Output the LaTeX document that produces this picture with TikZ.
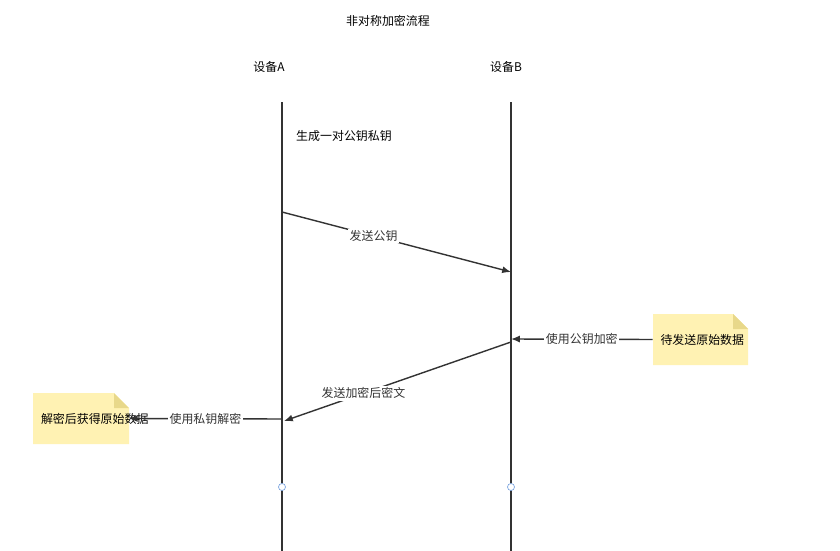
\documentclass[tikz,border=0pt]{standalone}
\usepackage{fontspec}
\newfontfamily\cjk{Noto Sans CJK SC}
\usetikzlibrary{positioning,arrows.meta}
\definecolor{notefill}{HTML}{FFF2B3}
\definecolor{notefold}{HTML}{E8D88A}
\definecolor{linegray}{HTML}{333333}
\definecolor{dotblue}{HTML}{7EA6E0}
\begin{document}
\begin{tikzpicture}[
        x=0.02cm, y=-0.02cm,
        font=\cjk\fontsize{6.8}{8.5}\selectfont
    ]
    \tikzset{
        lbl/.style = {inner sep=1pt},
        msg/.style = {-{Latex[length=5pt,width=4pt]}, linegray, thick},
        msglbl/.style = {fill=white, inner sep=1pt},
        life/.style = {linegray, thick},
        dotc/.style = {circle, draw=dotblue, fill=white, inner sep=0pt, minimum size=4pt},
        note/.style = {align=center, inner sep=0pt, minimum width=1.9cm, minimum height=1.02cm, text width=1.6cm},
    }
    \useasboundingbox (0,0) rectangle (840,551);
    % titles
    \node[lbl] (title) at (388,21) {非对称加密流程};
    \node[lbl] (devA) at (269,67) {设备A};
    \node[lbl] (devB) at (506,67) {设备B};
    % lifelines
    \coordinate (a0) at (282,102);
    \coordinate (a1) at (282,551);
    \coordinate (b0) at (511,102);
    \coordinate (b1) at (511,551);
    \draw[life] (a0) -- (a1);
    \draw[life] (b0) -- (b1);
    \node[lbl] (gen) at (344,136) {生成一对公钥私钥};
    % notes
    \fill[notefill] (653,314) -- (733,314) -- (748,329) -- (748,365) -- (653,365) -- cycle;
    \fill[notefold] (733,314) -- (748,329) -- (733,329) -- cycle;
    \node[note] (srcnote) at (700.5,339.5) {待发送原始数据};
    \fill[notefill] (33,393) -- (114,393) -- (129,408) -- (129,444) -- (33,444) -- cycle;
    \fill[notefold] (114,393) -- (129,408) -- (114,408) -- cycle;
    \node[note] (outnote) at (81,418.5) {解密后获得原始数据};
    % messages
    \coordinate (m1s) at (282,212);
    \coordinate (m1e) at (511,272);
    \draw[msg] (m1s) -- node[msglbl, pos=0.4] {发送公钥} (m1e);
    \coordinate (m2e) at (511,339);
    \draw[msg] (srcnote.west) -- node[msglbl] {使用公钥加密} (m2e);
    \coordinate (m3s) at (511,342);
    \coordinate (m3e) at (284,421);
    \draw[msg] (m3s) -- node[msglbl, pos=0.65] {发送加密后密文} (m3e);
    \coordinate (m4s) at (282,419);
    \draw[msg] (m4s) -- node[msglbl] {使用私钥解密} (outnote.east);
    % ends
    \node[dotc] (enda) at (282,487) {};
    \node[dotc] (endb) at (511,487) {};
\end{tikzpicture}
\end{document}
